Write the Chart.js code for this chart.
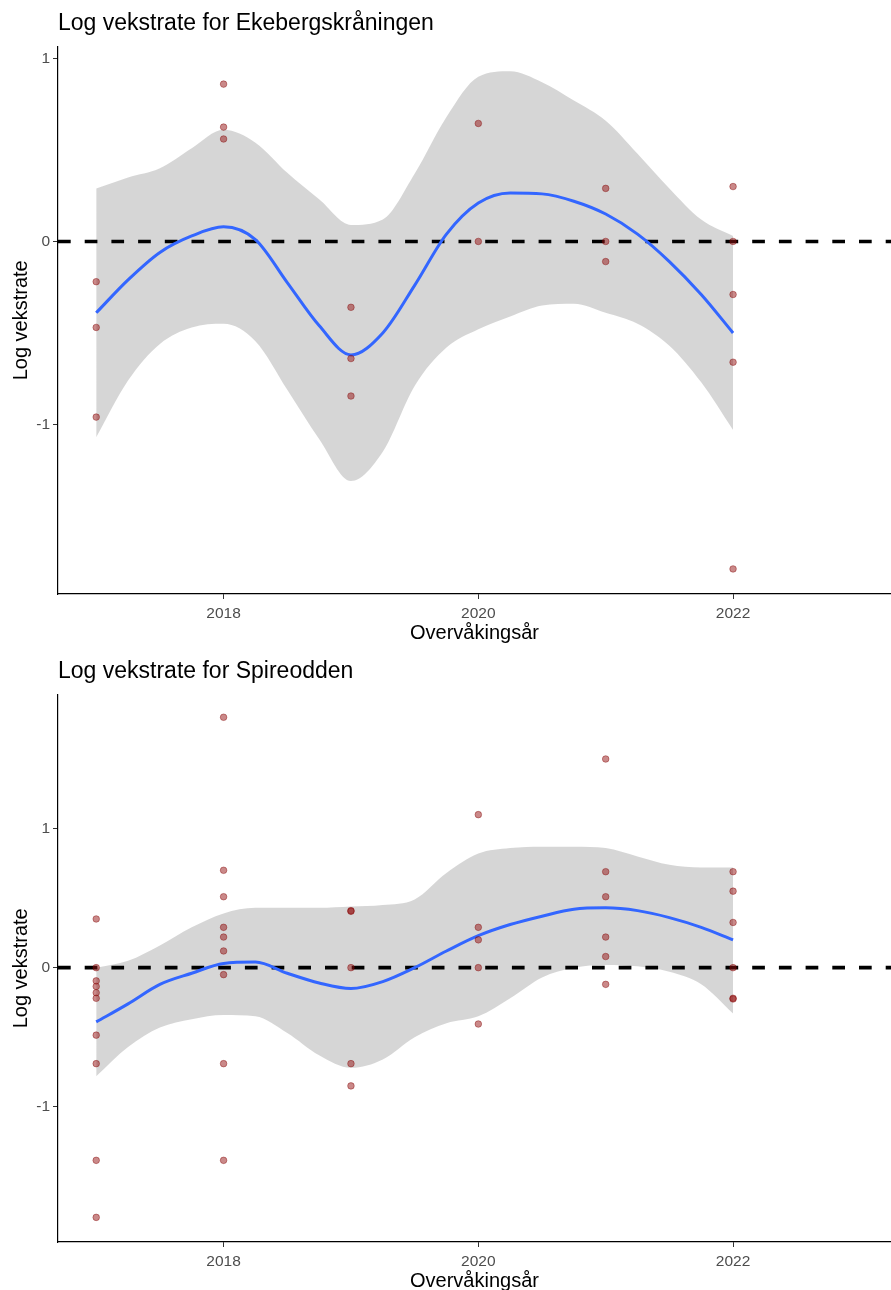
<!DOCTYPE html>
<html><head><meta charset="utf-8">
<script src="https://cdn.jsdelivr.net/npm/chart.js@4.4.1/dist/chart.umd.min.js"></script>
<style>
html,body{margin:0;padding:0;background:#fff;}
body{width:891px;height:1290px;overflow:hidden;position:relative;}
.box{position:absolute;left:0;width:896px;height:647px;}
#b1{top:0}
#b2{top:648px}
canvas{display:block}
</style></head><body>
<div class="box" id="b1"><canvas id="c1" width="896" height="647"></canvas></div>
<div class="box" id="b2"><canvas id="c2" width="896" height="647"></canvas></div>
<script>
const FONT = "'Liberation Sans', Arial, sans-serif";
const X_MIN = 2016.7, X_MAX = 2023.24;
const xTicks = [2018, 2020, 2022];
const yTicks = [-1, 0, 1];
const xTitle = 'Overvåkingsår';
const yTitle = 'Log vekstrate';

const gridYears = [2017, 2017.25, 2017.5, 2017.75, 2018, 2018.25, 2018.5, 2018.75, 2019, 2019.25, 2019.5, 2019.75, 2020, 2020.25, 2020.5, 2020.75, 2021, 2021.25, 2021.5, 2021.75, 2022];

// --- Ekebergskråningen ---
const ekeTitle = 'Log vekstrate for Ekebergskråningen';
const ekePointYears = [2017,2017,2017, 2018,2018,2018, 2019,2019,2019, 2020,2020, 2021,2021,2021, 2022,2022,2022,2022,2022];
const ekePointValues = [-0.22,-0.47,-0.96, 0.86,0.625,0.56, -0.36,-0.64,-0.845, 0.645,0, 0.29,0,-0.11, 0.30,0,-0.29,-0.66,-1.79];
const ekeFit   = [-0.39,-0.21,-0.06,0.03,0.08,0.01,-0.225,-0.46,-0.62,-0.50,-0.24,0.04,0.21,0.265,0.26,0.22,0.15,0.04,-0.11,-0.29,-0.50];
const ekeUpper = [0.29,0.35,0.40,0.51,0.61,0.54,0.375,0.23,0.09,0.12,0.37,0.68,0.90,0.93,0.87,0.77,0.66,0.48,0.29,0.12,0.03];
const ekeLower = [-1.07,-0.76,-0.56,-0.47,-0.45,-0.545,-0.81,-1.08,-1.31,-1.15,-0.79,-0.58,-0.48,-0.41,-0.35,-0.34,-0.39,-0.45,-0.57,-0.77,-1.03];
const ekeYRange = [-1.927, 1.065];

// --- Spireodden ---
const spiTitle = 'Log vekstrate for Spireodden';
const spiPointYears = [2017,2017,2017,2017,2017,2017,2017,2017,2017,2017,
  2018,2018,2018,2018,2018,2018,2018,2018,2018,
  2019,2019,2019,2019,2019,
  2020,2020,2020,2020,2020,
  2021,2021,2021,2021,2021,2021,
  2022,2022,2022,2022,2022,2022];
const spiPointValues = [0.35,0,-0.095,-0.135,-0.18,-0.22,-0.485,-0.69,-1.385,-1.795,
  1.80,0.70,0.51,0.29,0.22,0.12,-0.05,-0.69,-1.385,
  0.41,0.405,0,-0.69,-0.85,
  1.10,0.29,0.20,0,-0.405,
  1.50,0.69,0.51,0.22,0.08,-0.12,
  0.69,0.55,0.325,0,-0.22,-0.225];
const spiFit   = [-0.39,-0.26,-0.12,-0.04,0.03,0.04,-0.04,-0.11,-0.15,-0.10,0.00,0.12,0.23,0.31,0.37,0.42,0.43,0.41,0.36,0.29,0.20];
const spiUpper = [0.00,0.05,0.16,0.29,0.39,0.43,0.43,0.43,0.44,0.45,0.49,0.68,0.82,0.86,0.87,0.87,0.86,0.80,0.74,0.72,0.72];
const spiLower = [-0.78,-0.57,-0.43,-0.37,-0.34,-0.35,-0.47,-0.63,-0.72,-0.66,-0.50,-0.40,-0.35,-0.22,-0.07,0.00,0.02,0.01,-0.03,-0.12,-0.33];
const spiYRange = [-1.972, 1.963];

function pts(xs, ys){ return xs.map((x,i)=>({x:x, y:ys[i]})); }

function build(id, title, pYears, pVals, fit, upper, lower, yRange){
  const tickFont = {family: FONT, size: 15.5};
  const titleFont = {family: FONT, size: 20};
  return new Chart(document.getElementById(id), {
    type: 'scatter',
    data: { datasets: [
      { type:'scatter', data: pts(pYears, pVals), order:0, pointRadius:3.3,
        backgroundColor:'rgba(150,20,20,0.5)', borderColor:'rgba(130,0,0,0.4)', borderWidth:1 },
      { type:'line', data: pts(gridYears, fit), order:1, borderColor:'#3366FF', borderWidth:3,
        pointRadius:0, fill:false, cubicInterpolationMode:'monotone' },
      { type:'line', data: [{x:X_MIN, y:0}, {x:X_MAX, y:0}], order:2, borderColor:'#000', borderWidth:3.6,
        borderDash:[12.7,14], borderCapStyle:'butt', pointRadius:0, fill:false },
      { type:'line', data: pts(gridYears, upper), order:3, borderWidth:0, borderColor:'rgba(0,0,0,0)',
        pointRadius:0, fill:'+1', backgroundColor:'rgba(153,153,153,0.4)', cubicInterpolationMode:'monotone' },
      { type:'line', data: pts(gridYears, lower), order:4, borderWidth:0, borderColor:'rgba(0,0,0,0)',
        pointRadius:0, fill:false, cubicInterpolationMode:'monotone' }
    ]},
    options: {
      responsive:false, animation:false, devicePixelRatio:1,
      layout:{padding:{left:0,right:0,top:0,bottom:0}},
      plugins:{
        legend:{display:false}, tooltip:{enabled:false},
        title:{display:true, text:title, align:'start', fullSize:false, color:'#000',
          font:{family:FONT, size:23, weight:'normal'}, padding:{top:10, bottom:9}}
      },
      scales:{
        x:{ type:'linear', min:X_MIN, max:X_MAX,
          afterBuildTicks: s => { s.ticks = xTicks.map(v=>({value:v})); },
          afterFit: s => { s.height = 53; },
          ticks:{font:tickFont, color:'#4D4D4D', padding:5, maxRotation:0, autoSkip:false, callback: v => String(v)},
          grid:{display:true, drawOnChartArea:false, drawTicks:true, tickLength:5, color:'#333', lineWidth:1},
          border:{display:true, color:'#000', width:1.2},
          title:{display:true, text:xTitle, color:'#000', font:titleFont, padding:{top:0, bottom:2}}
        },
        y:{ type:'linear', min:yRange[0], max:yRange[1],
          afterBuildTicks: s => { s.ticks = yTicks.map(v=>({value:v})); },
          afterFit: s => { s.width = 58; },
          ticks:{font:tickFont, color:'#4D4D4D', padding:3, autoSkip:false, callback: v => String(v)},
          grid:{display:true, drawOnChartArea:false, drawTicks:true, tickLength:5, color:'#333', lineWidth:1},
          border:{display:true, color:'#000', width:1.2},
          title:{display:true, text:yTitle, color:'#000', font:titleFont, padding:{top:9, bottom:0}}
        }
      }
    }
  });
}

build('c1', ekeTitle, ekePointYears, ekePointValues, ekeFit, ekeUpper, ekeLower, ekeYRange);
build('c2', spiTitle, spiPointYears, spiPointValues, spiFit, spiUpper, spiLower, spiYRange);
</script>
</body></html>
